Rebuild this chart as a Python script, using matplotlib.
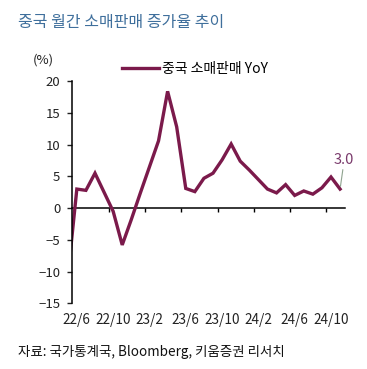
import numpy as np
import matplotlib.pyplot as plt

plt.rcParams['font.family'] = ['Noto Sans CJK KR', 'DejaVu Sans']

# monthly YoY (%), first value sits just left of the axis and is clipped
months = ["22/5", "22/6", "22/7", "22/8", "22/9", "22/10", "22/11", "22/12",
          "23/1", "23/2", "23/3", "23/4", "23/5", "23/6", "23/7", "23/8",
          "23/9", "23/10", "23/11", "23/12", "24/1", "24/2", "24/3", "24/4",
          "24/5", "24/6", "24/7", "24/8", "24/9", "24/10", "24/11"]
retail_yoy = [-10.9, 3.0, 2.8, 5.5, 2.5, -0.5, -5.8, -1.8,
              2.4, 6.5, 10.6, 18.4, 12.8, 3.1, 2.6, 4.7,
              5.5, 7.6, 10.1, 7.4, 6.0, 4.5, 3.0, 2.4,
              3.7, 2.0, 2.7, 2.2, 3.2, 4.9, 3.0]
tick_labels = ["22/6", "22/10", "23/2", "23/6", "23/10", "24/2", "24/6", "24/10"]
y_ticks = [-15, -10, -5, 0, 5, 10, 15, 20]

line_col = "#7b1a4b"

fig = plt.figure(figsize=(3.67, 3.69), dpi=100)
ax = fig.add_axes([0.197, 0.178, 0.742, 0.602])

x = np.arange(len(months)) - 1
ax.plot(x, retail_yoy, color=line_col, linewidth=2.4, label="중국 소매판매 YoY",
        solid_joinstyle="miter")

ax.set_xlim(-0.5, len(months) - 1.5)
ax.set_ylim(-15, 20)

# y axis
ax.set_yticks(y_ticks)
ax.tick_params(axis="y", direction="out", length=3.6, width=1, pad=5,
               labelsize=9.5, colors="#222222")
ax.spines["left"].set_linewidth(1.1)
ax.spines["left"].set_color("black")
for s in ["top", "right", "bottom"]:
    ax.spines[s].set_visible(False)

# category labels at the bottom
lab_pos = [months.index(m) - 1 for m in tick_labels]
ax.set_xticks(lab_pos)
ax.set_xticklabels(tick_labels)
ax.tick_params(axis="x", length=0, pad=7, labelsize=9.8, colors="#222222")

# zero line with tick marks between categories
zero_ax = ax.secondary_xaxis(15 / 35)
zero_ax.set_xticks([p + 3.5 for p in lab_pos[:-1]])
zero_ax.set_xticklabels([])
zero_ax.tick_params(axis="x", direction="out", length=3, width=1, color="black")
zero_ax.spines["bottom"].set_linewidth(1.1)
zero_ax.spines["bottom"].set_color("black")

# last value label
ax.annotate(f"{retail_yoy[-1]:.1f}", xy=(x[-1], retail_yoy[-1]),
            xytext=(3, 16), textcoords="offset points", ha="center",
            va="bottom", fontsize=10.5, color="#7a3a6c",
            arrowprops=dict(arrowstyle="-", color="#8fa38f", lw=0.8,
                            shrinkA=0, shrinkB=2))

ax.legend(loc="center", bbox_to_anchor=(195 / 367, 1 - 69 / 369),
          bbox_transform=fig.transFigure, frameon=False, fontsize=10,
          handlelength=2.7, handletextpad=0.2, borderaxespad=0, borderpad=0)

fig.text(33 / 367, 1 - 60 / 369, "(%)", fontsize=9.5, va="center", color="#222222")
fig.text(18 / 367, 1 - 22 / 369, "중국 월간 소매판매 증가율 추이", fontsize=11.5,
         va="center", color="#3f6f9c")
fig.text(18 / 367, 1 - 352 / 369, "자료: 국가통계국, Bloomberg, 키움증권 리서치",
         fontsize=9.7, va="center", color="#111111")

fig.savefig("out.png", dpi=100)
